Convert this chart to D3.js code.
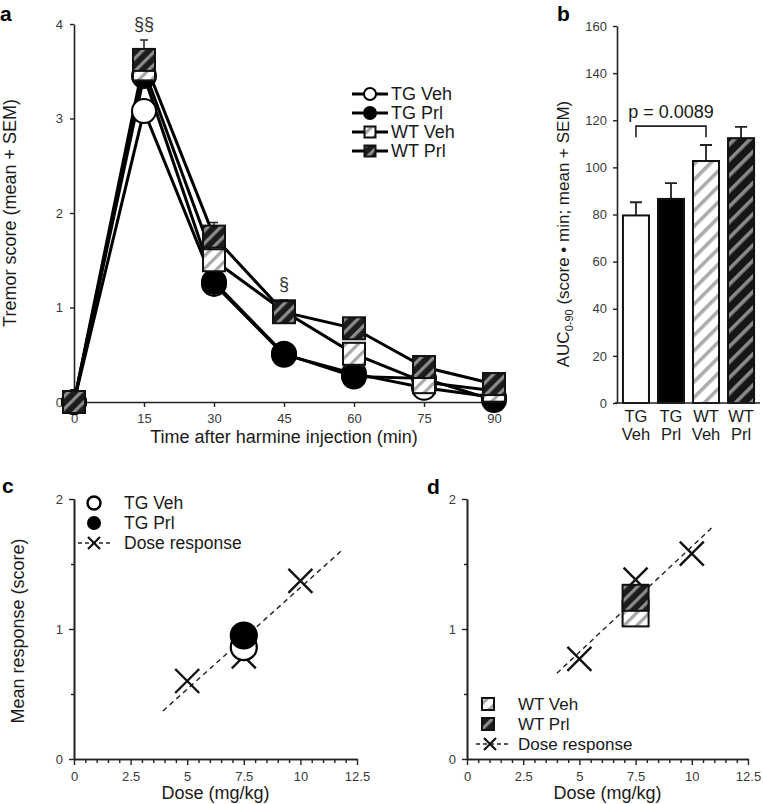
<!DOCTYPE html>
<html><head><meta charset="utf-8">
<script src="https://cdn.jsdelivr.net/npm/d3@7"></script>
<style>
body{margin:0;background:#fff;}
text{font-family:"Liberation Sans",Arial,Helvetica,sans-serif;}
</style></head><body>
<script>
// ---------- DATA ----------
const timePoints = [0, 15, 30, 45, 60, 75, 90];
const seriesNames = ["TG Veh", "TG Prl", "WT Veh", "WT Prl"];
const tgVeh = [0, 3.08, 1.25, 0.50, 0.30, 0.15, 0.05];
const tgPrl = [0, 3.45, 1.27, 0.51, 0.27, 0.25, 0.02];
const wtVeh = [0, 3.52, 1.50, 0.96, 0.51, 0.21, 0.12];
const wtPrl = [0, 3.62, 1.75, 0.95, 0.78, 0.37, 0.19];
const wtPrlSem = [0, 0.21, 0.15, 0.13, 0.08, 0.06, 0.05];
const aYTicks = [0, 1, 2, 3, 4];
const sigA = [{t: 15, v: 3.83, s: "§§"}, {t: 45, v: 1.08, s: "§"}];

const barCats = ["TG Veh", "TG Prl", "WT Veh", "WT Prl"];
const barLabels1 = ["TG", "TG", "WT", "WT"];
const barLabels2 = ["Veh", "Prl", "Veh", "Prl"];
const aucMean = [79.6, 86.6, 102.7, 112.4];
const aucSem = [5.6, 6.7, 6.8, 4.8];
const bYTicks = [0, 20, 40, 60, 80, 100, 120, 140, 160];
const bracketLevel = 117.5;
const pText = "p = 0.0089";

const doseTicks = [0, 2.5, 5, 7.5, 10, 12.5];
const doseMinor = [0.5,1,1.5,2,3,3.5,4,4.5,5.5,6,6.5,7,8,8.5,9,9.5,10.5,11,11.5,12];
const respTicks = [0, 1, 2];
const respMinor = [0.5, 1.5];
const doseLevels = [5, 7.5, 10];
const doseRespC = [0.60, 0.79, 1.37];
const fitC = [[3.93, 0.37], [11.8, 1.60]];
const tgVehC = 0.86, tgPrlC = 0.95, groupDose = 7.5;
const doseRespD = [0.77, 1.38, 1.58];
const fitD = [[4.0, 0.66], [10.9, 1.78]];
const wtVehD = 1.12, wtPrlD = 1.24;

// ---------- SETUP ----------
const W = 763, H = 804;
const svg = d3.select("body").append("svg").attr("width", W).attr("height", H);
const defs = svg.append("defs");
function hatch(id, bg, fg, period, sw) {
  const p = defs.append("pattern").attr("id", id).attr("patternUnits", "userSpaceOnUse")
    .attr("width", period).attr("height", period).attr("patternTransform", "rotate(45)");
  p.append("rect").attr("width", period).attr("height", period).attr("fill", bg);
  p.append("rect").attr("width", sw).attr("height", period).attr("fill", fg);
}
hatch("hlS", "#fff", "#a8a8a8", 9, 3.2);
hatch("hdS", "#1c1c1c", "#8c8c8c", 9, 3.2);
hatch("hlB", "#fff", "#ababab", 11, 3.6);
hatch("hdB", "#161616", "#8a8a8a", 11, 3.6);

const TXT = "#1a1a1a", TICK = "#3a3a3a", AX = "#222";
const fmt = d => String(d);

function styleAxis(g) {
  g.select(".domain").attr("stroke", AX).attr("stroke-width", 1.6);
  g.selectAll(".tick line").attr("stroke", AX).attr("stroke-width", 1.4);
  g.selectAll(".tick text").attr("fill", TICK).style("font-size", "13px")
    .style("font-family", '"Liberation Sans",Arial,sans-serif');
}
function label(x, y, str, size, opts = {}) {
  const t = svg.append("text").attr("x", x).attr("y", y).text(str)
    .attr("fill", TXT).style("font-size", size + "px")
    .attr("text-anchor", opts.anchor || "start");
  if (opts.rot) t.attr("transform", `rotate(${opts.rot},${x},${y})`);
  if (opts.bold) t.style("font-weight", "bold");
  if (opts.mid) t.attr("dominant-baseline", "central");
  return t;
}
function xMark(g, cx, cy, r, sw) {
  g.append("path").attr("d", `M${cx - r},${cy - r}L${cx + r},${cy + r}M${cx - r},${cy + r}L${cx + r},${cy - r}`)
    .attr("stroke", "#111").attr("stroke-width", sw).attr("fill", "none");
}

// ---------- PANEL A ----------
const xA = d3.scaleLinear().domain([0, 90]).range([74, 494]);
const yA = d3.scaleLinear().domain([0, 4]).range([402, 24]);
svg.append("g").attr("transform", `translate(0,${yA(0)})`)
  .call(d3.axisBottom(xA).tickValues(timePoints).tickFormat(fmt).tickSize(5).tickSizeOuter(0).tickPadding(7)).call(styleAxis);
svg.append("g").attr("transform", `translate(${xA(0)},0)`)
  .call(d3.axisLeft(yA).tickValues(aYTicks).tickFormat(fmt).tickSize(4).tickSizeOuter(0).tickPadding(7)).call(styleAxis);

const seriesA = [
  {name: "TG Veh", vals: tgVeh, shape: "circle", fill: "#fff"},
  {name: "TG Prl", vals: tgPrl, shape: "circle", fill: "#000"},
  {name: "WT Veh", vals: wtVeh, shape: "square", fill: "url(#hlS)"},
  {name: "WT Prl", vals: wtPrl, shape: "square", fill: "url(#hdS)"}
];
const lineA = d3.line().x((d, i) => xA(timePoints[i])).y(d => yA(d));
const gA = svg.append("g");
seriesA.forEach(s => {
  gA.append("path").attr("d", lineA(s.vals)).attr("fill", "none").attr("stroke", "#000").attr("stroke-width", 3);
});
wtPrl.forEach((v, i) => {
  const x = xA(timePoints[i]);
  gA.append("path").attr("d", `M${x},${yA(v)}V${yA(v + wtPrlSem[i])}M${x - 4},${yA(v + wtPrlSem[i])}H${x + 4}`)
    .attr("stroke", "#222").attr("stroke-width", 1.5).attr("fill", "none");
});
function marker(g, s, cx, cy, size) {
  if (s.shape === "circle") {
    g.append("circle").attr("cx", cx).attr("cy", cy).attr("r", size / 2)
      .attr("fill", s.fill).attr("stroke", "#000").attr("stroke-width", 2);
  } else {
    g.append("rect").attr("x", cx - size / 2).attr("y", cy - size / 2).attr("width", size).attr("height", size)
      .attr("fill", s.fill).attr("stroke", "#111").attr("stroke-width", 2);
  }
}
seriesA.forEach(s => {
  s.vals.forEach((v, i) => marker(gA, s, xA(timePoints[i]), yA(v), s.shape === "circle" ? 24 : 22));
});
sigA.forEach(d => label(xA(d.t), yA(d.v) - 10, d.s, 18, {anchor: "middle"}).attr("fill", "#333"));
const legAy = [94, 113, 132, 151];
seriesA.forEach((s, i) => {
  const y = legAy[i];
  gA.append("line").attr("x1", 352).attr("x2", 388).attr("y1", y).attr("y2", y).attr("stroke", "#000").attr("stroke-width", 3);
  marker(gA, s, 370, y, s.shape === "circle" ? 12 : 11);
  label(391, y, s.name, 18, {mid: true});
});
label(284, 443, "Time after harmine injection (min)", 18, {anchor: "middle"});
label(16, 213, "Tremor score (mean + SEM)", 18, {anchor: "middle", rot: -90});
label(0, 21, "a", 21, {bold: true}).attr("fill", "#000");

// ---------- PANEL B ----------
const xB = d3.scaleBand().domain(barCats).range([617, 760]).paddingInner(0.257).paddingOuter(0.17);
const yB = d3.scaleLinear().domain([0, 160]).range([403, 26]);
const barFills = ["#fff", "#000", "url(#hlB)", "url(#hdB)"];
const gB = svg.append("g");
barCats.forEach((c, i) => {
  const x = xB(c), bw = xB.bandwidth(), cx = x + bw / 2;
  const top = yB(aucMean[i] + aucSem[i]);
  gB.append("path").attr("d", `M${cx},${yB(aucMean[i])}V${top}M${cx - 6},${top}H${cx + 6}`)
    .attr("stroke", "#222").attr("stroke-width", 1.8).attr("fill", "none");
  gB.append("rect").attr("x", x).attr("y", yB(aucMean[i])).attr("width", bw).attr("height", yB(0) - yB(aucMean[i]))
    .attr("fill", barFills[i]).attr("stroke", "#111").attr("stroke-width", 2);
});
const gBx = svg.append("g").attr("transform", `translate(0,${yB(0)})`)
  .call(d3.axisBottom(xB).tickSize(0).tickSizeOuter(0).tickFormat("")).call(styleAxis);
gBx.select(".domain").attr("d", "M615,0H760");
svg.append("g").attr("transform", `translate(617,0)`)
  .call(d3.axisLeft(yB).tickValues(bYTicks).tickFormat(fmt).tickSize(4).tickSizeOuter(0).tickPadding(6)).call(styleAxis);
barCats.forEach((c, i) => {
  const cx = xB(c) + xB.bandwidth() / 2;
  label(cx, 422, barLabels1[i], 16.5, {anchor: "middle"});
  label(cx, 440, barLabels2[i], 16.5, {anchor: "middle"});
});
{
  const x1 = xB("TG Veh") + xB.bandwidth() / 2, x2 = xB("WT Veh") + xB.bandwidth() / 2;
  const yb = yB(bracketLevel);
  gB.append("path").attr("d", `M${x1},${yb + 11}V${yb}H${x2}V${yb + 11}`).attr("stroke", "#222")
    .attr("stroke-width", 1.6).attr("fill", "none");
  label((x1 + x2) / 2, yb - 8, pText, 18, {anchor: "middle"});
}
{
  const t = svg.append("text").attr("transform", "translate(569,234) rotate(-90)")
    .attr("text-anchor", "middle").attr("fill", TXT).style("font-size", "17px");
  t.append("tspan").text("AUC");
  t.append("tspan").text("0-90").style("font-size", "11px").attr("dy", 4);
  t.append("tspan").text(" (score • min; mean + SEM)").attr("dy", -4);
}
label(557, 21, "b", 21, {bold: true}).attr("fill", "#000");

// ---------- PANELS C & D ----------
function scatterAxes(x0, x1) {
  const xs = d3.scaleLinear().domain([0, 12.5]).range([x0, x1]);
  const ys = d3.scaleLinear().domain([0, 2]).range([759, 499]);
  svg.append("g").attr("transform", `translate(0,759)`)
    .call(d3.axisBottom(xs).tickValues(doseMinor).tickSize(4).tickSizeOuter(0).tickFormat("")).call(styleAxis);
  svg.append("g").attr("transform", `translate(0,759)`)
    .call(d3.axisBottom(xs).tickValues(doseTicks).tickFormat(fmt).tickSize(6).tickSizeOuter(0).tickPadding(7)).call(styleAxis);
  svg.append("g").attr("transform", `translate(${x0},0)`)
    .call(d3.axisLeft(ys).tickValues(respMinor).tickSize(3).tickSizeOuter(0).tickFormat("")).call(styleAxis);
  svg.append("g").attr("transform", `translate(${x0},0)`)
    .call(d3.axisLeft(ys).tickValues(respTicks).tickFormat(fmt).tickSize(5).tickSizeOuter(0).tickPadding(6)).call(styleAxis);
  label((x0 + x1) / 2, 799, "Dose (mg/kg)", 18, {anchor: "middle"});
  return [xs, ys];
}
function fitLine(g, xs, ys, fit) {
  g.append("line").attr("x1", xs(fit[0][0])).attr("y1", ys(fit[0][1]))
    .attr("x2", xs(fit[1][0])).attr("y2", ys(fit[1][1]))
    .attr("stroke", "#222").attr("stroke-width", 1.4).attr("stroke-dasharray", "5,4");
}
{
  const [xs, ys] = scatterAxes(74, 357);
  const g = svg.append("g");
  fitLine(g, xs, ys, fitC);
  doseLevels.forEach((d, i) => xMark(g, xs(d), ys(doseRespC[i]), 12, 2.4));
  g.append("circle").attr("cx", xs(groupDose)).attr("cy", ys(tgVehC)).attr("r", 13)
    .attr("fill", "#fff").attr("stroke", "#000").attr("stroke-width", 2.2);
  g.append("circle").attr("cx", xs(groupDose)).attr("cy", ys(tgPrlC)).attr("r", 13)
    .attr("fill", "#000").attr("stroke", "#000").attr("stroke-width", 2.2);
  g.append("circle").attr("cx", 94).attr("cy", 503).attr("r", 6.5).attr("fill", "#fff").attr("stroke", "#000").attr("stroke-width", 2.4);
  label(124, 503, "TG Veh", 17.5, {mid: true});
  g.append("circle").attr("cx", 94).attr("cy", 523).attr("r", 7).attr("fill", "#000");
  label(124, 523, "TG Prl", 17.5, {mid: true});
  g.append("line").attr("x1", 78).attr("x2", 110).attr("y1", 543).attr("y2", 543).attr("stroke", "#222")
    .attr("stroke-width", 1.4).attr("stroke-dasharray", "4,3");
  xMark(g, 94, 543, 6, 2.2);
  label(124, 543, "Dose response", 17.5, {mid: true});
  label(24, 631, "Mean response (score)", 18, {anchor: "middle", rot: -90});
  label(2, 493, "c", 21, {bold: true}).attr("fill", "#000");
}
{
  const [xs, ys] = scatterAxes(467, 748);
  const g = svg.append("g");
  fitLine(g, xs, ys, fitD);
  doseLevels.forEach((d, i) => xMark(g, xs(d), ys(doseRespD[i]), 12, 2.4));
  const sq = 26;
  g.append("rect").attr("x", xs(groupDose) - sq / 2).attr("y", ys(wtVehD) - sq / 2).attr("width", sq).attr("height", sq)
    .attr("fill", "url(#hlS)").attr("stroke", "#111").attr("stroke-width", 2);
  g.append("rect").attr("x", xs(groupDose) - sq / 2).attr("y", ys(wtPrlD) - sq / 2).attr("width", sq).attr("height", sq)
    .attr("fill", "url(#hdS)").attr("stroke", "#111").attr("stroke-width", 2);
  const legD = [704, 724, 744];
  g.append("rect").attr("x", 482).attr("y", legD[0] - 6).attr("width", 12).attr("height", 12)
    .attr("fill", "url(#hlS)").attr("stroke", "#111").attr("stroke-width", 2);
  label(518, legD[0], "WT Veh", 17, {mid: true});
  g.append("rect").attr("x", 482).attr("y", legD[1] - 6).attr("width", 12).attr("height", 12)
    .attr("fill", "url(#hdS)").attr("stroke", "#111").attr("stroke-width", 2);
  label(518, legD[1], "WT Prl", 17, {mid: true});
  g.append("line").attr("x1", 476).attr("x2", 508).attr("y1", legD[2]).attr("y2", legD[2]).attr("stroke", "#222")
    .attr("stroke-width", 1.4).attr("stroke-dasharray", "4,3");
  xMark(g, 490, legD[2], 6, 2.2);
  label(518, legD[2], "Dose response", 17, {mid: true});
  label(427, 494, "d", 21, {bold: true}).attr("fill", "#000");
}
</script>
</body></html>
